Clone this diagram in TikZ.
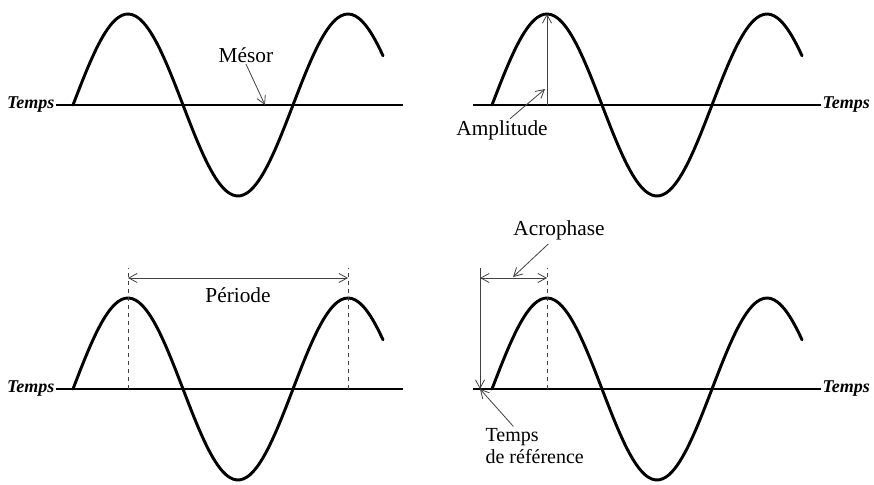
\documentclass[tikz,border=0pt]{standalone}
\usepackage{fontspec}
\setmainfont{Liberation Serif}
\usetikzlibrary{arrows.meta}

\begin{document}
\begin{tikzpicture}[
    x=0.75pt, y=0.75pt,
    wave/.style={line width=2.2pt, line join=round, line cap=round},
    axisline/.style={line width=1.1pt},
    lbl/.style={font=\fontsize{16}{19}\selectfont, inner sep=1pt},
    tlbl/.style={font=\fontsize{13.5}{16}\selectfont\bfseries\itshape, inner sep=1pt},
    arrow/.style={-{Straight Barb[length=2.2mm, width=2.4mm]}, line width=0.6pt, black!75},
    dimarrow/.style={{Straight Barb[length=2.2mm, width=2.4mm]}-{Straight Barb[length=2.2mm, width=2.4mm]}, line width=0.6pt, black!75},
    guide/.style={dashed, line width=0.6pt, black!75}
]
\useasboundingbox (0,0) rectangle (874,485);

% axes
\node[tlbl, anchor=east] (t1) at (56,380) {Temps};
\draw[axisline] (t1.east) -- ++(347,0) coordinate (t1end);
\node[tlbl, anchor=west] (t2) at (821,380) {Temps};
\draw[axisline] (t2.west) -- ++(-348,0) coordinate (t2end);
\node[tlbl, anchor=east] (t3) at (56,96) {Temps};
\draw[axisline] (t3.east) -- ++(347,0) coordinate (t3end);
\node[tlbl, anchor=west] (t4) at (821,96) {Temps};
\draw[axisline] (t4.west) -- ++(-348,0) coordinate (t4end);

% waves
\foreach \px/\py in {73/380, 492/380, 73/96, 492/96}
  \draw[wave] plot[domain=0:310, samples=90, smooth] ({\px+\x}, {\py+91*sin(\x*1.63636)});

% Mesor
\node[lbl] (mesor) at (246,430) {Mésor};
\coordinate (mes) at (265,380);
\draw[arrow] ([xshift=0pt]mesor.south) -- (mes);

% Amplitude
\coordinate (amp0) at (547,380);
\coordinate (pk2) at (547,471);
\draw[arrow] (amp0) -- (pk2);
\node[lbl] (amp) at (502,355) {Amplitude};
\coordinate (amptip) at (545,396);
\draw[arrow] ([xshift=6pt]amp.north) -- (amptip);

% Periode
\draw[guide] (128,96) -- (128,217);
\draw[guide] (348,96) -- (348,217);
\coordinate (per1) at (128,207);
\coordinate (per2) at (348,207);
\draw[dimarrow] (per1) -- (per2);
\node[lbl] (period) at (238,190) {Période};

% Acrophase
\coordinate (reftop) at (480,217);
\coordinate (ref) at (480,96);
\draw[arrow] (reftop) -- (ref);
\draw[guide] (547,96) -- (547,217);
\coordinate (acro1) at (480,207);
\coordinate (acro2) at (547,207);
\draw[dimarrow] (acro1) -- (acro2);
\node[lbl] (acro) at (559,255) {Acrophase};
\coordinate (acrotip) at (513,208);
\draw[arrow] ([xshift=-8pt,yshift=-2pt]acro.south) -- (acrotip);

% Temps de reference
\node[lbl, align=left, anchor=west, font=\fontsize{15}{17}\selectfont] (reflbl) at (484,39) {Temps\\de référence};
\draw[arrow] ([xshift=-16pt]reflbl.north) -- (ref);

\end{tikzpicture}
\end{document}
